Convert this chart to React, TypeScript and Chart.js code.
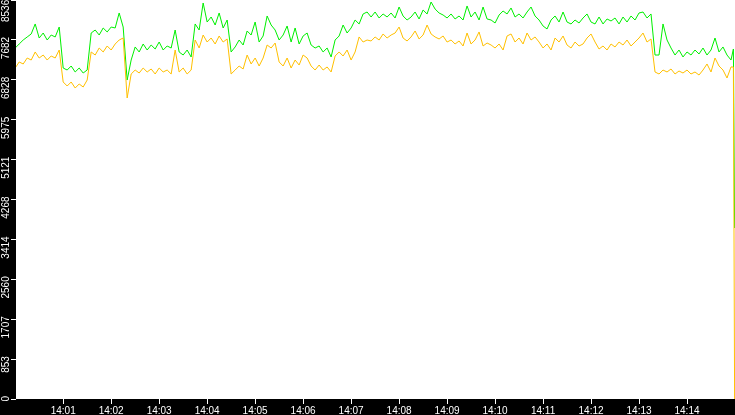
import { useEffect, useRef } from 'react';
import Chart from 'chart.js/auto';

// one sample every 5 s, starting at 14:00:00
const sampleStep = 5;

const greenSeries = [
  7509, 7595, 7680, 7745, 7809, 8023, 7723, 7830, 7680, 7787, 7745, 7958, 7081, 7038, 7124, 6996,
  7081, 6974, 7038, 7830, 7894, 7787, 7937, 7852, 7958, 7937, 8258, 7958, 6824, 7252, 7531, 7424,
  7595, 7466, 7573, 7488, 7637, 7466, 7552, 7509, 7894, 7424, 7359, 7466, 7317, 8023, 7894, 8472,
  8065, 8172, 8001, 8258, 7937, 8108, 7424, 7531, 7680, 7573, 7873, 7787, 8065, 7637, 7766, 8194,
  8001, 7894, 7680, 7787, 7980, 7637, 7937, 7595, 7766, 7830, 7573, 7509, 7552, 7424, 7509, 7317,
  7680, 7766, 8001, 7830, 7937, 8108, 8023, 8237, 8279, 8172, 8279, 8151, 8237, 8172, 8258, 8151,
  8386, 8194, 8108, 8172, 8279, 8130, 8322, 8237, 8493, 8343, 8258, 8215, 8151, 8237, 8130, 8194,
  8108, 8408, 8172, 8279, 8108, 8386, 8130, 8108, 8044, 8215, 8301, 8237, 8365, 8172, 8237, 8151,
  8279, 8386, 8194, 8108, 7980, 7916, 8108, 8194, 8065, 8279, 8065, 8023, 8108, 8044, 8151, 8237,
  8065, 8023, 8172, 8023, 8130, 8087, 8151, 8023, 8172, 8065, 8194, 8108, 8258, 8279, 8151, 8237,
  7359, 7359, 8023, 7680, 7509, 7359, 7466, 7317, 7424, 7359, 7466, 7381, 7509, 7359, 7466, 7723,
  7424, 7531, 7359, 7252,
];

const yellowSeries = [
  7081, 7210, 7167, 7295, 7252, 7424, 7295, 7359, 7252, 7338, 7295, 7466, 6782, 6696, 6782, 6653,
  6739, 6675, 6824, 7424, 7359, 7509, 7424, 7552, 7466, 7595, 7680, 7723, 6440, 6953, 7038, 6974,
  7081, 6996, 7060, 6953, 7081, 6996, 7038, 6953, 7466, 6996, 7081, 6953, 7038, 7680, 7509, 7787,
  7637, 7723, 7595, 7766, 7637, 7702, 6953, 7038, 7124, 7060, 7359, 7167, 7295, 7124, 7295, 7573,
  7509, 7616, 7210, 7124, 7295, 7081, 7252, 7145, 7359, 7295, 7124, 7038, 7145, 7038, 7103, 6996,
  7338, 7424, 7338, 7466, 7252, 7424, 7745, 7637, 7680, 7659, 7745, 7680, 7809, 7723, 7787, 7830,
  7958, 7723, 7659, 7745, 7873, 7702, 7787, 8001, 7809, 7745, 7702, 7766, 7637, 7680, 7595, 7659,
  7552, 7830, 7595, 7680, 7852, 7552, 7616, 7573, 7509, 7595, 7466, 7766, 7809, 7637, 7723, 7595,
  7830, 7680, 7745, 7637, 7509, 7595, 7466, 7723, 7637, 7766, 7573, 7509, 7637, 7552, 7595, 7723,
  7809, 7637, 7488, 7552, 7466, 7595, 7531, 7637, 7573, 7680, 7552, 7637, 7723, 7830, 7637, 7702,
  6996, 6953, 7038, 6996, 7060, 6953, 7017, 6974, 7038, 6953, 6996, 6931, 7038, 7167, 6996, 7295,
  7124, 7038, 6867, 7103,
];

// last two readings: the feed collapses in the final second
const tailSeconds = [898, 899.5];
const greenTail = [7488, 3658];
const yellowTail = [7103, 0];

// minute ticks in seconds after 14:00 and their labels
const minuteTicks = [60, 120, 180, 240, 300, 360, 420, 480, 540, 600, 660, 720, 780, 840];
const minuteLabels = ['14:01', '14:02', '14:03', '14:04', '14:05', '14:06', '14:07', '14:08', '14:09', '14:10', '14:11', '14:12', '14:13', '14:14'];

const yMax = 8536;
const yStep = 853.6;

const backdrop = {
  id: 'backdrop',
  beforeDraw(chart: Chart) {
    const { ctx, chartArea } = chart;
    ctx.save();
    ctx.fillStyle = '#000';
    ctx.fillRect(0, 0, chart.width, chart.height);
    ctx.fillStyle = '#fff';
    ctx.fillRect(chartArea.left, chartArea.top, chartArea.right - chartArea.left, chartArea.bottom - chartArea.top);
    ctx.restore();
  },
};

const noPadding = (scale: any) => {
  scale.paddingTop = 0;
  scale.paddingBottom = 0;
  scale.paddingLeft = 0;
  scale.paddingRight = 0;
};

const App = () => {
  const canvasRef = useRef<HTMLCanvasElement>(null);
  const chartRef = useRef<Chart | null>(null);

  useEffect(() => {
    document.body.style.margin = '0';
    if (!canvasRef.current) return;
    const ctx = canvasRef.current.getContext('2d');
    if (!ctx) return;

    chartRef.current?.destroy();

    const toPoints = (vals: number[], tail: number[]) => [
      ...vals.map((v, i) => ({ x: i * sampleStep, y: v })),
      ...tail.map((v, i) => ({ x: tailSeconds[i], y: v })),
    ];
    const font = { family: 'Liberation Sans', size: 10 };

    chartRef.current = new Chart(ctx, {
      type: 'line',
      data: {
        datasets: [
          {
            label: 'yellow',
            data: toPoints(yellowSeries, yellowTail),
            borderColor: '#ffc000',
            borderWidth: 1,
            pointRadius: 0,
            tension: 0,
            fill: false,
          },
          {
            label: 'green',
            data: toPoints(greenSeries, greenTail),
            borderColor: '#00f000',
            borderWidth: 1,
            pointRadius: 0,
            tension: 0,
            fill: false,
          },
        ],
      },
      options: {
        animation: false,
        responsive: false,
        devicePixelRatio: 1,
        layout: { padding: 0 },
        plugins: { legend: { display: false }, tooltip: { enabled: false } },
        scales: {
          x: {
            type: 'linear',
            min: 1,
            max: 900,
            afterBuildTicks: (scale: any) => {
              scale.ticks = minuteTicks.map((v) => ({ value: v }));
            },
            afterFit: (scale: any) => {
              scale.height = 16;
              noPadding(scale);
            },
            border: { display: false },
            grid: { drawOnChartArea: false, drawTicks: true, tickLength: 5, color: '#fff', tickColor: '#fff' },
            ticks: {
              autoSkip: false,
              maxRotation: 0,
              padding: 1,
              color: '#fff',
              font,
              callback: (v: any) => minuteLabels[minuteTicks.indexOf(Number(v))] ?? '',
            },
          },
          y: {
            min: 0,
            max: yMax,
            afterFit: (scale: any) => {
              scale.width = 16;
              noPadding(scale);
            },
            border: { display: false },
            grid: { drawOnChartArea: false, drawTicks: true, tickLength: 5, color: '#fff', tickColor: '#fff' },
            ticks: {
              stepSize: yStep,
              minRotation: 90,
              maxRotation: 90,
              labelOffset: -3,
              padding: 5,
              color: '#fff',
              font,
              // the top label is pushed down so it stays inside the canvas
              callback: (v: any) => {
                const label = String(Math.floor(Number(v)));
                return Number(v) >= yMax ? label + ' ' : label;
              },
            },
          },
        },
      },
      plugins: [backdrop],
    });

    return () => {
      chartRef.current?.destroy();
      chartRef.current = null;
    };
  }, []);

  return (
    <div style={{ width: 735, height: 415 }}>
      <canvas ref={canvasRef} width={735} height={415} />
    </div>
  );
};

export default App;
